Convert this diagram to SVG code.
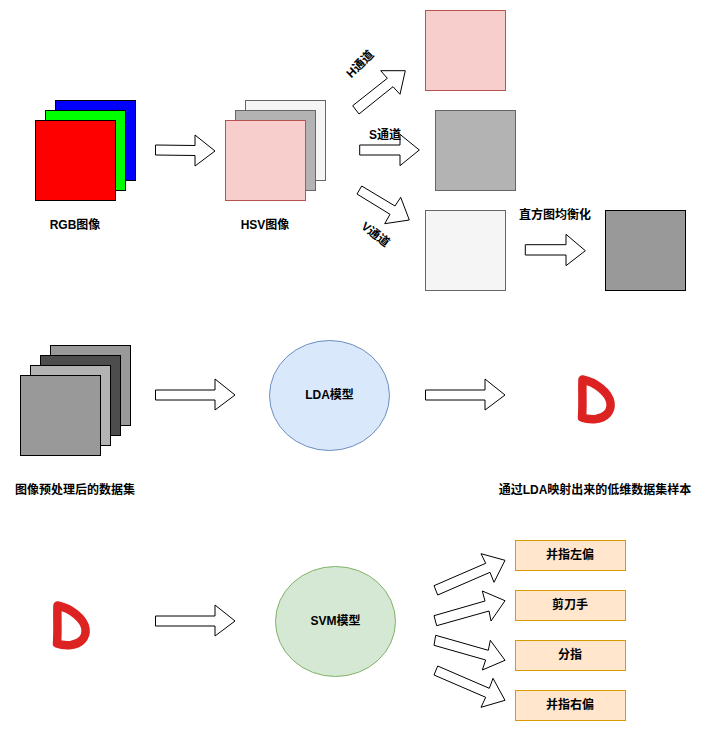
<svg xmlns="http://www.w3.org/2000/svg" width="708" height="731" viewBox="0 0 708 731">
<style>
text{font-family:"Liberation Sans","Noto Sans CJK SC",sans-serif;font-size:12px;font-weight:bold;fill:#000;text-anchor:middle;dominant-baseline:central}
.k{stroke:#000}.g{stroke:#666}.r{stroke:#b85450}
.o{fill:#ffe6cc;stroke:#d79b00}
polygon{fill:#fff;stroke:#000;stroke-width:1}
.d{fill:none;stroke:#dd2222;stroke-width:8.5;stroke-linecap:round;stroke-linejoin:round}
</style>
<defs><path id="dshape" class="d" d="M582.5 379.5C595 382 609 392 610.5 403C611.5 412 605 418 596 419C590 419.5 586 419 582 417.5C583 405 582 392 582.5 379.5Z"/></defs>
<rect width="708" height="731" fill="#fff"/>
<g id="connectors">
<polygon points="155.5,145 195,145.5 195,135 215,151 195,166 195,155.5 155.5,155"/>
<polygon points="352.7,105.7 359,114 393,86.7 400,94.3 405.3,70.7 380.7,70.7 387.3,78.3"/>
<polygon points="359.7,145 400,145 400,134.3 419.3,150 400,165.7 400,155 359.7,155"/>
<polygon points="361.7,186 395,206 400.7,197.3 409.3,220 384.7,223.7 390,214.3 357,194"/>
<polygon points="525.3,244.7 566,244.7 566,234.3 585.3,250.7 566,265.7 566,255 525.3,255"/>
<polygon points="155.5,390 215,390 215,379 235,395 215,410 215,400 155.5,400"/>
<polygon points="425.5,390 485,390 485,379 505,395 485,410 485,400 425.5,400"/>
<polygon points="155.5,616 215,616 215,605 235,621 215,636 215,626 155.5,626"/>
<polygon points="434,585.7 437.7,595 490,572.3 494,582.3 505,560.3 481,553.7 485.7,563.3"/>
<polygon points="434,615.7 436.7,625.7 489,611 491,621 505,600.7 482.3,591 485,601"/>
<polygon points="435.7,635.3 434,645.3 485.7,660 482.3,670 505,660.3 490.3,640.3 488.3,650.3"/>
<polygon points="437.7,666 434,675 485.7,697.3 481,707.3 505,700.3 493,678.3 489.3,688.3"/>
</g>
<g id="rgb">
<rect x="55.5" y="100.5" width="80" height="80" fill="#0000ff" class="k"/>
<rect x="45.5" y="110.5" width="80" height="80" fill="#00ff00" class="k"/>
<rect x="35.5" y="120.5" width="80" height="80" fill="#ff0000" class="k"/>
<text x="75" y="225">RGB图像</text>
</g>
<g id="hsv">
<rect x="245.5" y="100.5" width="80" height="80" fill="#f5f5f5" class="g"/>
<rect x="235.5" y="110.5" width="80" height="80" fill="#b3b3b3" class="g"/>
<rect x="225.5" y="120.5" width="80" height="80" fill="#f8cecc" class="r"/>
<text x="265" y="225">HSV图像</text>
</g>
<g id="h-channel"><rect x="425.5" y="10.5" width="80" height="80" fill="#f8cecc" class="r"/></g>
<g id="s-channel"><rect x="435.5" y="110.5" width="80" height="80" fill="#b3b3b3" class="g"/></g>
<g id="v-channel"><rect x="425.5" y="210.5" width="80" height="80" fill="#f5f5f5" class="g"/></g>
<g id="equalized"><rect x="605.5" y="210.5" width="80" height="80" fill="#999999" class="k"/></g>
<g id="labels">
<text x="360" y="64" transform="rotate(-45 360 64)">H通道</text>
<text x="385" y="134.5">S通道</text>
<text x="375.5" y="234.5" transform="rotate(38 375.5 234.5)">V通道</text>
<text x="555" y="215">直方图均衡化</text>
</g>
<g id="dataset">
<rect x="50.5" y="345.5" width="80" height="80" fill="#999999" class="k"/>
<rect x="40.5" y="355.5" width="80" height="80" fill="#4d4d4d" class="k"/>
<rect x="30.5" y="365.5" width="80" height="80" fill="#b3b3b3" class="k"/>
<rect x="20.5" y="375.5" width="80" height="80" fill="#999999" class="k"/>
<text x="75" y="490">图像预处理后的数据集</text>
</g>
<g id="lda"><ellipse cx="329.5" cy="395.5" rx="60" ry="55" fill="#dae8fc" stroke="#6c8ebf"/><text x="329.5" y="395">LDA模型</text></g>
<g id="sample"><use href="#dshape"/><text x="595" y="490">通过LDA映射出来的低维数据集样本</text></g>
<g id="sample2"><use href="#dshape" transform="translate(-525 226)"/></g>
<g id="svm"><ellipse cx="335.5" cy="621.5" rx="60" ry="55" fill="#d5e8d4" stroke="#82b366"/><text x="335.5" y="621">SVM模型</text></g>
<g id="c1"><rect x="515.5" y="540.5" width="110" height="30" class="o"/><text x="570" y="555">并指左偏</text></g>
<g id="c2"><rect x="515.5" y="590.5" width="110" height="30" class="o"/><text x="570" y="605">剪刀手</text></g>
<g id="c3"><rect x="515.5" y="640.5" width="110" height="30" class="o"/><text x="570" y="655">分指</text></g>
<g id="c4"><rect x="515.5" y="690.5" width="110" height="30" class="o"/><text x="570" y="705">并指右偏</text></g>
</svg>
